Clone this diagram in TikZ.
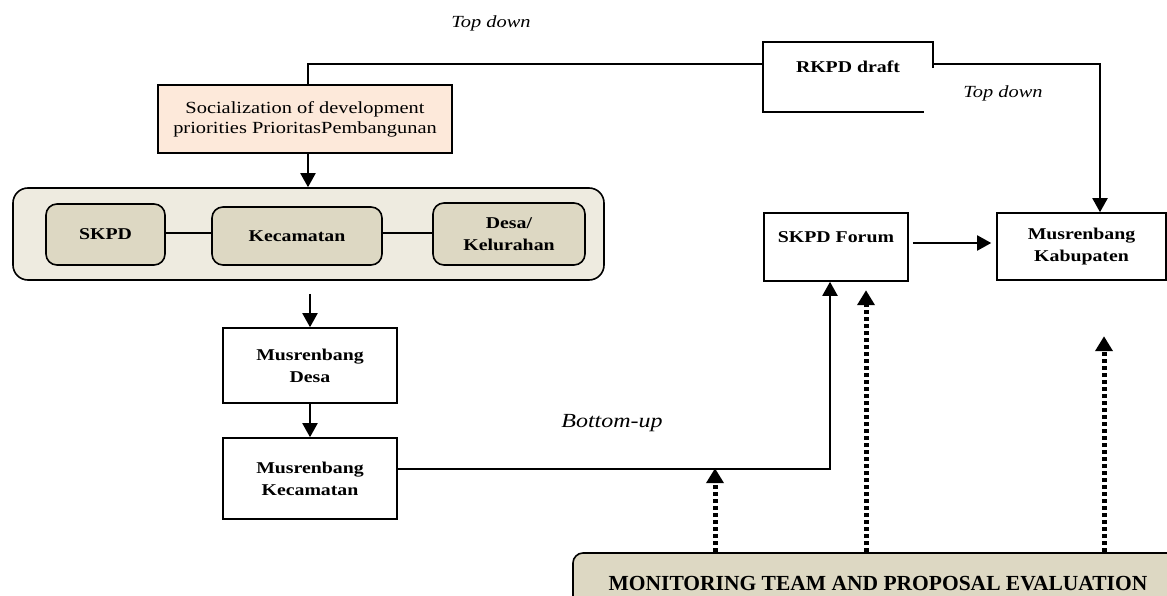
\documentclass[tikz,border=0pt]{standalone}
\usepackage{fontspec}
\setmainfont[FakeStretch=1.2]{Liberation Serif}
\newfontfamily\monfont{Liberation Serif}
\usetikzlibrary{arrows.meta,calc}
\definecolor{peach}{HTML}{FDE9DA}
\definecolor{outerc}{HTML}{EEEBE0}
\definecolor{innerc}{HTML}{DDD8C3}
\tikzset{
  box/.style={draw, line width=1.6pt, align=center, inner sep=0pt, font=\fontsize{16.5}{22}\selectfont\bfseries},
  innerbox/.style={box, fill=innerc, rounded corners=11pt},
  toptext/.style={text height=11pt, text depth=20pt},
  arr/.style={line width=2pt, -{Triangle[length=14pt,width=15pt]}},
  plainline/.style={line width=1.8pt},
  dotarr/.style={line width=5pt, dash pattern=on 4pt off 3pt, -{Triangle[length=15pt,width=17pt]}},
  lbl/.style={font=\fontsize{17}{20}\selectfont\itshape, inner sep=0pt}
}
\begin{document}
\begin{tikzpicture}[x=1pt,y=-1pt]
\useasboundingbox (0,0) rectangle (1167,596);
\clip (0,0) rectangle (1167,596);

% texts
\node[lbl] (td1) at (491,23) {Top down};
\node[lbl] (td2) at (1003,93) {Top down};
\node[lbl, font=\fontsize{20}{24}\selectfont\itshape] (bu) at (612,423) {Bottom-up};

% socialization
\node[box, fill=peach, minimum width=294pt, minimum height=68pt, font=\fontsize{17}{20}\selectfont] (soc) at (305,119)
  {Socialization of development\\priorities PrioritasPembangunan};

% outer group
\node[draw, line width=1.6pt, fill=outerc, rounded corners=15pt, minimum width=591pt, minimum height=92pt] (outer) at (308.5,234) {};
\node[innerbox, minimum width=119pt, minimum height=61pt] (skpd) at (105.5,234.5) {SKPD};
\node[innerbox, minimum width=170pt, minimum height=58pt] (kec) at (297,236) {Kecamatan};
\node[innerbox, minimum width=152pt, minimum height=62pt] (desa) at (509,234) {Desa/\\Kelurahan};

% left column
\node[box, minimum width=174pt, minimum height=75pt] (mdesa) at (310,365.5) {Musrenbang\\Desa};
\node[box, minimum width=174pt, minimum height=81pt] (mkec) at (310,478.5) {Musrenbang\\Kecamatan};

% right side
\node[box, draw=none, toptext, minimum width=168pt, minimum height=68pt] (rkpd) at (848,77) {RKPD draft};
\draw[plainline] ($(rkpd.north east)+(0,26)$) -- (rkpd.north east) -- (rkpd.north west) -- (rkpd.south west) -- ($(rkpd.south east)+(-9,0)$);
\node[box, toptext, minimum width=144pt, minimum height=68pt] (forum) at (836,247) {SKPD Forum};
\node[box, minimum width=169pt, minimum height=67pt] (kab) at (1081.5,246.5) {Musrenbang\\Kabupaten};

% monitoring
\node[draw, line width=1.6pt, fill=innerc, rounded corners=10pt, minimum width=610pt, minimum height=62pt,
  font=\monfont\fontsize{21.5}{24}\selectfont\bfseries] (mon) at (878,584) {MONITORING TEAM AND PROPOSAL EVALUATION};

% connectors
\draw[plainline] ([xshift=3pt]soc.north) |- ($(rkpd.north west)+(0,22)$);
\draw[arr] ([xshift=3pt]soc.south) -- ([xshift=3pt]soc.south |- outer.north);
\draw[plainline] (skpd.east |- 0,233) -- (kec.west |- 0,233);
\draw[plainline] (kec.east |- 0,233) -- (desa.west |- 0,233);
\draw[arr, shorten <=13pt] (mdesa.north |- outer.south) -- (mdesa.north);
\draw[arr] (mdesa.south) -- (mkec.north);
\draw[arr] ([yshift=10pt]mkec.east) -| ([xshift=-6pt]forum.south);
\draw[arr, shorten <=4pt, shorten >=5pt] ([yshift=4pt]forum.east) -- ([yshift=4pt]forum.east -| kab.west);
\draw[arr] ($(rkpd.north east)+(0,22)$) -| ([xshift=18.5pt]kab.north);
\draw[dotarr] ([xshift=-163pt]mon.north) -- ++(0,-84);
\draw[dotarr] ([xshift=-12pt]mon.north) -- ++(0,-262);
\draw[dotarr] ([xshift=226pt]mon.north) -- ++(0,-216);
\end{tikzpicture}
\end{document}
